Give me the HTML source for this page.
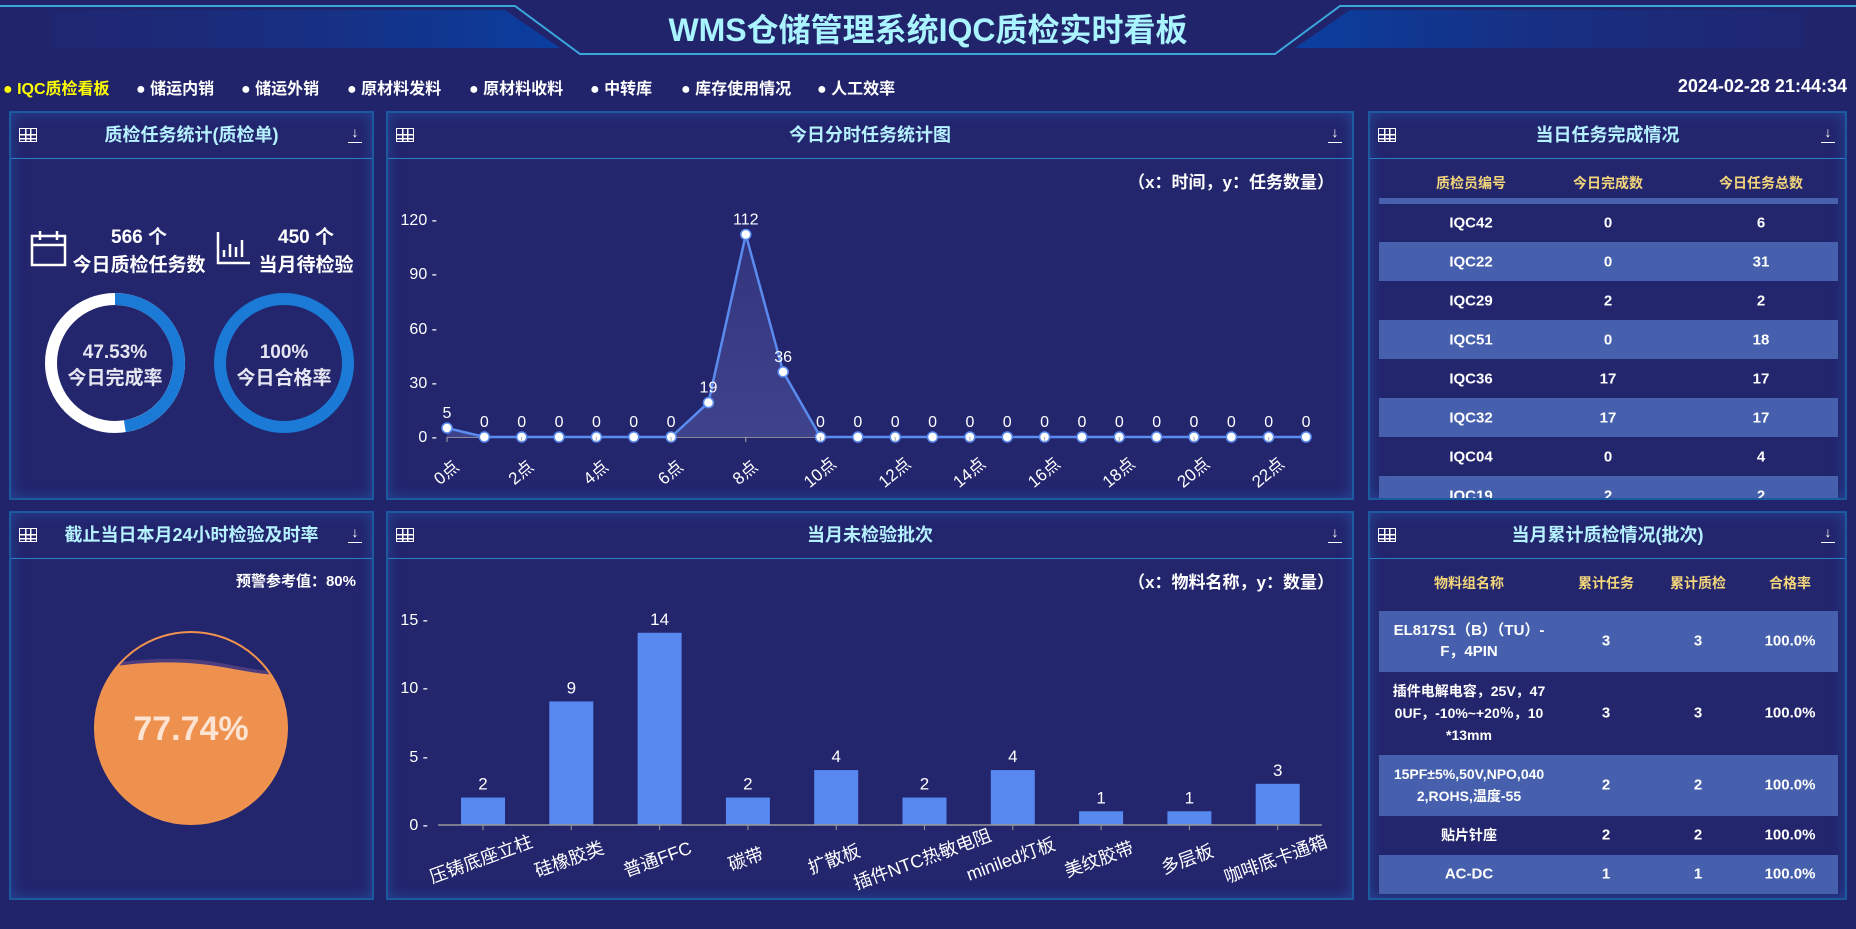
<!DOCTYPE html>
<html><head><meta charset="utf-8">
<style>
*{margin:0;padding:0;box-sizing:border-box}
body{width:1856px;height:929px;background:#22246b;font-family:"Liberation Sans","Noto Sans CJK SC",sans-serif;color:#fff;position:relative;overflow:hidden;font-weight:bold}
.abs{position:absolute}
.panel{position:absolute;border:2px solid #1b5a9e;background:#23256d;box-shadow:inset 0 0 14px rgba(40,110,200,.45);overflow:hidden}
.ph{position:absolute;left:0;right:0;top:0;height:46px;border-bottom:1px solid #2b7fc6;text-align:center;line-height:44px;font-size:18px;color:#b5f1ff}
.grid{position:absolute;left:8px;top:15px;width:18px;height:14px;border:1.5px solid #fff;background:
linear-gradient(#fff,#fff) 0 5px/100% 1.5px no-repeat,linear-gradient(#fff,#fff) 0 9px/100% 1.5px no-repeat,linear-gradient(#fff,#fff) 5px 0/1.5px 100% no-repeat,linear-gradient(#fff,#fff) 10px 0/1.5px 100% no-repeat}
.dl{position:absolute;right:10px;top:12px;width:14px;height:18px;color:#fff;font-size:14px;line-height:14px;text-align:center;border-bottom:1.5px solid #fff}
.nav{position:absolute;top:75px;font-size:16px;white-space:nowrap}
.row{position:absolute;left:9px;width:459px}
.blue{background:#4660ad}
.c{position:absolute;transform:translate(-50%,-50%);text-align:center;white-space:nowrap;font-size:15px}
.hd{color:#f3d57a;font-size:14px}
svg text{font-weight:normal}
svg text.b{font-weight:bold}
</style></head><body>

<svg class="abs" style="left:0;top:0" width="1856" height="60">
<defs><linearGradient id="lg" x1="0" x2="1"><stop offset="0" stop-color="#1b2a7a" stop-opacity=".4"/><stop offset="1" stop-color="#0a3fa0"/></linearGradient>
<linearGradient id="rg" x1="1" x2="0"><stop offset="0" stop-color="#1b2a7a" stop-opacity=".4"/><stop offset="1" stop-color="#0a3fa0"/></linearGradient></defs>
<polygon points="50,10 505,10 560,48 50,48" fill="url(#lg)"/>
<polygon points="1806,10 1350,10 1295,48 1806,48" fill="url(#rg)"/>
<polyline points="0,6 515,6 580,54 1275,54 1340,6 1856,6" fill="none" stroke="#3aa6dc" stroke-width="2"/>
<text class="b" x="928" y="41" text-anchor="middle" font-size="32" fill="#a9f4ff" font-family="Liberation Sans, Noto Sans CJK SC, sans-serif">WMS仓储管理系统IQC质检实时看板</text>
</svg>

<div class="nav" style="left:3px;color:#ffff00">● IQC质检看板</div>
<div class="nav" style="left:136px">● 储运内销</div>
<div class="nav" style="left:241px">● 储运外销</div>
<div class="nav" style="left:347px">● 原材料发料</div>
<div class="nav" style="left:469px">● 原材料收料</div>
<div class="nav" style="left:590px">● 中转库</div>
<div class="nav" style="left:681px">● 库存使用情况</div>
<div class="nav" style="left:817px">● 人工效率</div>
<div class="nav" style="right:9px;font-size:18px;top:76px">2024-02-28 21:44:34</div>

<div class="panel" style="left:9px;top:111px;width:365px;height:389px">
<div class="ph"><div class="grid"></div>质检任务统计(质检单)<div class="dl">↓</div></div>
</div>
<div class="panel" style="left:386px;top:111px;width:968px;height:389px">
<div class="ph"><div class="grid"></div>今日分时任务统计图<div class="dl">↓</div></div>
</div>
<div class="panel" style="left:1368px;top:111px;width:479px;height:389px">
<div class="ph"><div class="grid"></div>当日任务完成情况<div class="dl">↓</div></div>
<div class="c hd" style="left:101px;top:70px">质检员编号</div>
<div class="c hd" style="left:238px;top:70px">今日完成数</div>
<div class="c hd" style="left:391px;top:70px">今日任务总数</div>
<div class="row blue" style="top:85px;height:6px"></div>
<div class="row blue" style="top:129px;height:39px"></div>
<div class="row blue" style="top:207px;height:39px"></div>
<div class="row blue" style="top:285px;height:39px"></div>
<div class="row blue" style="top:363px;height:39px"></div>
<div class="c" style="left:101px;top:110px">IQC42</div><div class="c" style="left:238px;top:110px">0</div><div class="c" style="left:391px;top:110px">6</div>
<div class="c" style="left:101px;top:149px">IQC22</div><div class="c" style="left:238px;top:149px">0</div><div class="c" style="left:391px;top:149px">31</div>
<div class="c" style="left:101px;top:188px">IQC29</div><div class="c" style="left:238px;top:188px">2</div><div class="c" style="left:391px;top:188px">2</div>
<div class="c" style="left:101px;top:227px">IQC51</div><div class="c" style="left:238px;top:227px">0</div><div class="c" style="left:391px;top:227px">18</div>
<div class="c" style="left:101px;top:266px">IQC36</div><div class="c" style="left:238px;top:266px">17</div><div class="c" style="left:391px;top:266px">17</div>
<div class="c" style="left:101px;top:305px">IQC32</div><div class="c" style="left:238px;top:305px">17</div><div class="c" style="left:391px;top:305px">17</div>
<div class="c" style="left:101px;top:344px">IQC04</div><div class="c" style="left:238px;top:344px">0</div><div class="c" style="left:391px;top:344px">4</div>
<div class="c" style="left:101px;top:383px">IQC19</div><div class="c" style="left:238px;top:383px">2</div><div class="c" style="left:391px;top:383px">2</div>
</div>
<div class="panel" style="left:9px;top:511px;width:365px;height:389px">
<div class="ph"><div class="grid"></div>截止当日本月24小时检验及时率<div class="dl">↓</div></div>
<div class="abs" style="right:16px;top:57px;font-size:15px">预警参考值：80%</div>
</div>
<div class="panel" style="left:386px;top:511px;width:968px;height:389px">
<div class="ph"><div class="grid"></div>当月未检验批次<div class="dl">↓</div></div>
</div>
<div class="panel" style="left:1368px;top:511px;width:479px;height:389px">
<div class="ph"><div class="grid"></div>当月累计质检情况(批次)<div class="dl">↓</div></div>
<div class="c hd" style="left:99px;top:70px">物料组名称</div>
<div class="c hd" style="left:236px;top:70px">累计任务</div>
<div class="c hd" style="left:328px;top:70px">累计质检</div>
<div class="c hd" style="left:420px;top:70px">合格率</div>
<div class="row blue" style="top:98px;height:61px"></div>
<div class="row blue" style="top:242px;height:61px"></div>
<div class="row blue" style="top:342px;height:39px"></div>
<div class="c" style="left:99px;top:128px;line-height:21px">EL817S1（B）（TU）-<br>F，4PIN</div>
<div class="c" style="left:236px;top:128px">3</div><div class="c" style="left:328px;top:128px">3</div><div class="c" style="left:420px;top:128px">100.0%</div>
<div class="c" style="left:99px;top:200px;line-height:22px;font-size:14px">插件电解电容，25V，47<br>0UF，-10%~+20％，10<br>*13mm</div>
<div class="c" style="left:236px;top:200px">3</div><div class="c" style="left:328px;top:200px">3</div><div class="c" style="left:420px;top:200px">100.0%</div>
<div class="c" style="left:99px;top:272px;line-height:22px;font-size:14px">15PF±5%,50V,NPO,040<br>2,ROHS,温度-55</div>
<div class="c" style="left:236px;top:272px">2</div><div class="c" style="left:328px;top:272px">2</div><div class="c" style="left:420px;top:272px">100.0%</div>
<div class="c" style="left:99px;top:322px;font-size:14px">贴片针座</div>
<div class="c" style="left:236px;top:322px">2</div><div class="c" style="left:328px;top:322px">2</div><div class="c" style="left:420px;top:322px">100.0%</div>
<div class="c" style="left:99px;top:361px">AC-DC</div>
<div class="c" style="left:236px;top:361px">1</div><div class="c" style="left:328px;top:361px">1</div><div class="c" style="left:420px;top:361px">100.0%</div>
</div>

<svg class="abs" style="left:0;top:0" width="1856" height="929" font-family="Liberation Sans, Noto Sans CJK SC, sans-serif">
<defs>
<linearGradient id="ar" x1="0" y1="0" x2="0" y2="1"><stop offset="0" stop-color="#33347e"/><stop offset="1" stop-color="#3f438c"/></linearGradient>
<clipPath id="cc"><circle cx="191" cy="728" r="96"/></clipPath>
</defs>
<g stroke="#fff" stroke-width="2.5" fill="none">
<rect x="32" y="236" width="33" height="29"/><line x1="32" y1="245" x2="65" y2="245"/><line x1="40" y1="231" x2="40" y2="240"/><line x1="57" y1="231" x2="57" y2="240"/>
<polyline points="218,232 218,263 250,263"/><line x1="224" y1="257" x2="224" y2="250"/><line x1="230" y1="257" x2="230" y2="244"/><line x1="236" y1="257" x2="236" y2="247"/><line x1="242" y1="257" x2="242" y2="240"/>
</g>
<g fill="#fff" text-anchor="middle">
<text class="b" x="139" y="243" font-size="19">566 个</text><text class="b" x="139" y="271" font-size="19">今日质检任务数</text>
<text class="b" x="306" y="243" font-size="19">450 个</text><text class="b" x="306" y="271" font-size="19">当月待检验</text>
</g>
<circle cx="115" cy="363" r="64" fill="none" stroke="#fff" stroke-width="12"/>
<circle cx="115" cy="363" r="64" fill="none" stroke="#1a7ad6" stroke-width="12" stroke-dasharray="191.1 500" transform="rotate(-90 115 363)"/>
<circle cx="284" cy="363" r="64" fill="none" stroke="#1a7ad6" stroke-width="12"/>
<g fill="#e6e6f2" text-anchor="middle" font-size="19">
<text class="b" x="115" y="358">47.53%</text><text class="b" x="115" y="384">今日完成率</text>
<text class="b" x="284" y="358">100%</text><text class="b" x="284" y="384">今日合格率</text>
</g>
<text class="b" x="1334" y="188" text-anchor="end" font-size="17" fill="#fff">（x：时间，y：任务数量）</text>
<g font-size="16" fill="#fff" text-anchor="end">
<text x="437" y="442">0 -</text><text x="437" y="388">30 -</text><text x="437" y="334">60 -</text><text x="437" y="279">90 -</text><text x="437" y="225">120 -</text>
</g>
<line x1="447" y1="437" x2="1306" y2="437" stroke="#aaa" stroke-width="1.5"/>
<polygon points="447,428 484.4,437 671.1,437 708.4,402.6 745.8,234.5 783.2,371.9 820.5,437 447,437" fill="url(#ar)"/>
<polyline points="447,428 484.4,437 671.1,437 708.4,402.6 745.8,234.5 783.2,371.9 820.5,437 1306,437" fill="none" stroke="#5a8cf0" stroke-width="2.5"/>
<g id="dots" fill="#fff" stroke="#5a8cf0" stroke-width="1.5"></g>
<g id="lbl" fill="#fff" font-size="16" text-anchor="middle"></g>
<g id="xl" fill="#fff" font-size="17" text-anchor="middle"></g>
<text class="b" x="1334" y="588" text-anchor="end" font-size="17" fill="#fff">（x：物料名称，y：数量）</text>
<g font-size="16" fill="#fff" text-anchor="end">
<text x="428" y="830">0 -</text><text x="428" y="762">5 -</text><text x="428" y="693">10 -</text><text x="428" y="625">15 -</text>
</g>
<g id="bars"></g>
<line x1="438" y1="825" x2="1322" y2="825" stroke="#999" stroke-width="1.5"/>
<g clip-path="url(#cc)">
<path d="M80,668 C130,660 170,655 215,662 C250,668 275,676 310,668 L310,840 L80,840Z" fill="#6a4f8a" opacity=".6"/>
<path d="M80,672 C120,664 160,660 200,664 C240,668 260,678 310,675 L310,840 L80,840Z" fill="#ee914f"/>
</g>
<circle cx="191" cy="728" r="96" fill="none" stroke="#f0934f" stroke-width="2"/>
<text class="b" x="191" y="740" text-anchor="middle" font-size="34" fill="#fde3d2">77.74%</text>
</svg>
<script>
const NS="http://www.w3.org/2000/svg";
const d=[5,0,0,0,0,0,0,19,112,36,0,0,0,0,0,0,0,0,0,0,0,0,0,0];
const dots=document.getElementById('dots'),lbl=document.getElementById('lbl'),xl=document.getElementById('xl');
d.forEach((v,i)=>{const x=447+37.35*i,y=437-v*1.8083;
let c=document.createElementNS(NS,'circle');c.setAttribute('cx',x);c.setAttribute('cy',y);c.setAttribute('r',5);dots.appendChild(c);
let t=document.createElementNS(NS,'text');t.setAttribute('x',x);t.setAttribute('y',y-10);t.textContent=v;lbl.appendChild(t);
if(i%2==0){let u=document.createElementNS(NS,'text');u.setAttribute('transform',`translate(${x+3},${477}) rotate(-40)`);u.textContent=i+'点';xl.appendChild(u);
let tk=document.createElementNS(NS,'line');tk.setAttribute('x1',x);tk.setAttribute('x2',x);tk.setAttribute('y1',437);tk.setAttribute('y2',442);tk.setAttribute('stroke','#aaa');xl.appendChild(tk);}
});
const bv=[2,9,14,2,4,2,4,1,1,3],bn=['压铸底座立柱','硅橡胶类','普通FFC','碳带','扩散板','插件NTC热敏电阻','miniled灯板','美纹胶带','多层板','咖啡底卡通箱'];
const bars=document.getElementById('bars');
bv.forEach((v,i)=>{const x=483+88.3*i,h=v*13.73;
let r=document.createElementNS(NS,'rect');r.setAttribute('x',x-22);r.setAttribute('y',825-h);r.setAttribute('width',44);r.setAttribute('height',h);r.setAttribute('fill','#5789f0');bars.appendChild(r);
let t=document.createElementNS(NS,'text');t.setAttribute('x',x);t.setAttribute('y',825-h-8);t.setAttribute('text-anchor','middle');t.setAttribute('fill','#fff');t.setAttribute('font-size','17');t.textContent=v;bars.appendChild(t);
let tk=document.createElementNS(NS,'line');tk.setAttribute('x1',x);tk.setAttribute('x2',x);tk.setAttribute('y1',825);tk.setAttribute('y2',830);tk.setAttribute('stroke','#999');bars.appendChild(tk);
let u=document.createElementNS(NS,'text');u.setAttribute('transform',`translate(${x},${865}) rotate(-20)`);u.setAttribute('text-anchor','middle');u.setAttribute('fill','#fff');u.setAttribute('font-size','18');u.textContent=bn[i];bars.appendChild(u);
});
</script>
</body></html>
